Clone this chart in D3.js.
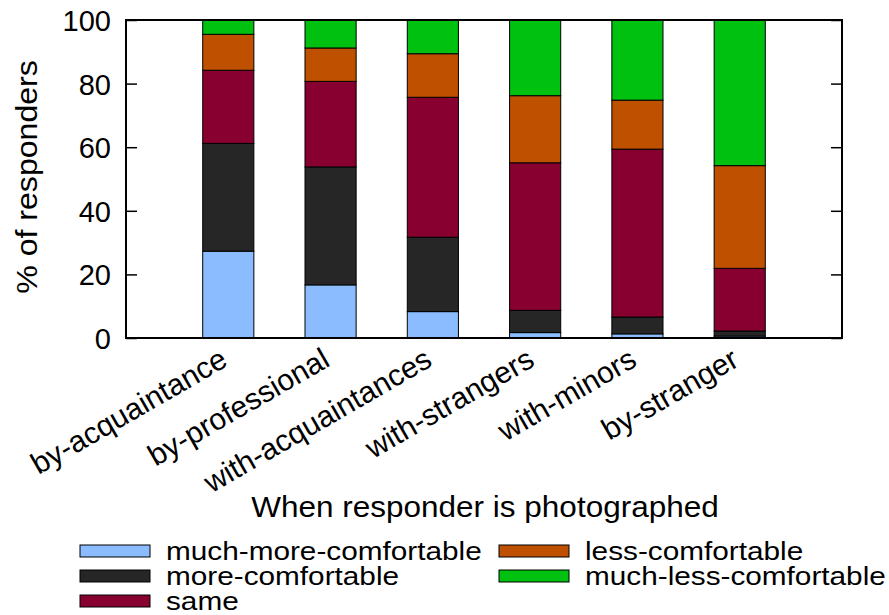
<!DOCTYPE html>
<html lang="en">
<head>
<meta charset="utf-8">
<title>Comfort when photographed</title>
<script src="https://cdn.jsdelivr.net/npm/d3@7"></script>
<style>
body { margin: 0; background: #fff; }
text { font-family: "Liberation Sans", Arial, Helvetica, sans-serif; fill: #000; }
.tick text { font-size: 29px; }
.bar { stroke: #000; stroke-width: 1; }
</style>
</head>
<body>
<script>
// categories along x
var categories = ['by-acquaintance', 'by-professional', 'with-acquaintances',
    'with-strangers', 'with-minors', 'by-stranger'];

// % of responders per category (bottom to top)
var muchMore = [27.3, 16.7, 8.3, 1.7, 1.3, 0.6];
var more     = [33.9, 37.1, 23.4, 7.0, 5.3, 1.6];
var same     = [23.0, 26.9, 44.0, 46.4, 52.8, 19.7];
var less     = [11.3, 10.5, 13.7, 21.1, 15.4, 32.3];
var muchLess = [4.5, 8.8, 10.6, 23.8, 25.2, 45.8];

var seriesNames = ['much-more-comfortable', 'more-comfortable', 'same',
    'less-comfortable', 'much-less-comfortable'];
var colorList = ['#8abcff', '#262626', '#880030', '#bf5000', '#00c010'];
var yTicks = [0, 20, 40, 60, 80, 100];

var w = 889, h = 615;
var margin = { top: 20, right: 47, bottom: 277, left: 126 };

// build rows for the stack
var values = [muchMore, more, same, less, muchLess];
var rows = categories.map(function(c, i) {
    var r = { cat: c, idx: i + 1 };
    seriesNames.forEach(function(s, k) { r[s] = values[k][i]; });
    return r;
});
var series = d3.stack().keys(seriesNames)(rows);

var x = d3.scaleLinear().domain([0, 7]).range([margin.left, w - margin.right]);
var y = d3.scaleLinear().domain([0, 100]).range([h - margin.bottom, margin.top]);
var color = d3.scaleOrdinal().domain(seriesNames).range(colorList);
var barW = x(0.5) - x(0);

var svg = d3.select('body').append('svg')
    .attr('width', w)
    .attr('height', h);

// bars
svg.selectAll('g.layer')
    .data(series)
    .enter().append('g')
    .attr('class', 'layer')
    .style('fill', function(d) { return color(d.key); })
    .selectAll('rect')
    .data(function(d) { return d; })
    .enter().append('rect')
    .attr('class', 'bar')
    .attr('x', function(d) { return x(d.data.idx) - barW / 2; })
    .attr('y', function(d) { return y(d[1]); })
    .attr('width', barW)
    .attr('height', function(d) { return y(d[0]) - y(d[1]); });

// left and right y axes, ticks inward
var yAxisL = d3.axisLeft(y).tickValues(yTicks).tickSizeInner(-11).tickSizeOuter(0).tickPadding(15);
var gl = svg.append('g')
    .attr('class', 'axis')
    .attr('transform', 'translate(' + margin.left + ',0)')
    .call(yAxisL);
gl.select('.domain').remove();
gl.selectAll('.tick line').attr('stroke', '#000').attr('stroke-width', 1.5);
gl.selectAll('.tick text').attr('dy', '0.36em');

var yAxisR = d3.axisRight(y).tickValues(yTicks).tickSizeInner(-11).tickSizeOuter(0).tickFormat('');
var gr = svg.append('g')
    .attr('transform', 'translate(' + (w - margin.right) + ',0)')
    .call(yAxisR);
gr.select('.domain').remove();
gr.selectAll('.tick line').attr('stroke', '#000').attr('stroke-width', 1.5);

// frame
svg.append('rect')
    .attr('x', margin.left)
    .attr('y', margin.top)
    .attr('width', w - margin.left - margin.right)
    .attr('height', h - margin.top - margin.bottom)
    .attr('fill', 'none')
    .attr('stroke', '#000')
    .attr('stroke-width', 2);

// rotated category labels
svg.selectAll('text.cat')
    .data(rows)
    .enter().append('text')
    .attr('class', 'cat')
    .attr('text-anchor', 'end')
    .style('font-size', '30px')
    .attr('transform', function(d) {
        return 'translate(' + (x(d.idx) + 1) + ',' + (y(0) + 27) + ') rotate(-30)';
    })
    .text(function(d) { return d.cat; });

// axis titles
svg.append('text')
    .attr('text-anchor', 'middle')
    .style('font-size', '30px')
    .attr('transform', 'translate(485,517) scale(1.05,1)')
    .text('When responder is photographed');

svg.append('text')
    .attr('text-anchor', 'middle')
    .style('font-size', '30px')
    .attr('transform', 'translate(37,' + ((margin.top + h - margin.bottom) / 2 - 2) + ') rotate(-90) scale(1.07,1)')
    .text('% of responders');

// legend, two columns
var legend = svg.selectAll('g.leg')
    .data(seriesNames)
    .enter().append('g')
    .attr('class', 'leg')
    .attr('transform', function(d, i) {
        var col = i < 3 ? 0 : 1, row = i < 3 ? i : i - 3;
        return 'translate(' + (col ? 499 : 80) + ',' + (545 + row * 25) + ')';
    });
legend.append('rect')
    .attr('width', 70)
    .attr('height', 12)
    .attr('fill', function(d) { return color(d); })
    .attr('stroke', '#000')
    .attr('stroke-width', 1);
legend.append('text')
    .attr('transform', 'translate(86,15) scale(1.19,1)')
    .style('font-size', '25px')
    .text(function(d) { return d; });
</script>
</body>
</html>
